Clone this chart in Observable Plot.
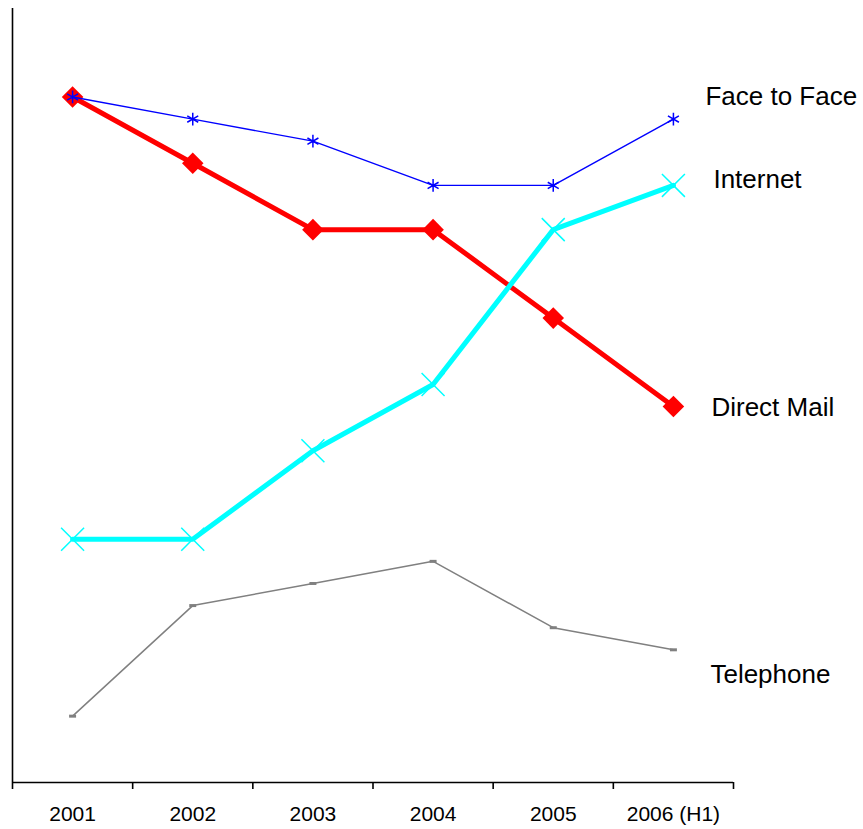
<!DOCTYPE html>
<html>
<head>
<meta charset="utf-8">
<script src="https://cdn.jsdelivr.net/npm/d3@7"></script>
<script src="https://cdn.jsdelivr.net/npm/@observablehq/plot@0.6"></script>
<style>
  html, body { margin: 0; padding: 0; background: #fff; }
  #chart svg { display: block; }
</style>
</head>
<body>
<div id="chart"></div>
<script>
// Categories along the x axis
const years = ["2001", "2002", "2003", "2004", "2005", "2006 (H1)"];

// Series values per year
const faceToFace = [31, 30, 29, 27, 27, 30];
const directMail = [31, 28, 25, 25, 21, 17];
const internet   = [11, 11, 15, 18, 25, 27];
const telephone  = [3, 8, 9, 10, 7, 6];

const seriesNames = ["Face to Face", "Internet", "Direct Mail", "Telephone"];
const seriesValues = [faceToFace, internet, directMail, telephone];

// Long-format rows, one per series and year (x at the middle of each year's slot)
const rows = seriesNames.flatMap((name, s) =>
  seriesValues[s].map((v, i) => ({series: name, i, x: i + 0.5, year: years[i], value: v}))
);

// Small flat dash used as the telephone marker
const dashSymbol = {
  draw(ctx) { ctx.moveTo(-3.5, -1.5); ctx.lineTo(3.5, -1.5); ctx.lineTo(3.5, 1.5); ctx.lineTo(-3.5, 1.5); ctx.closePath(); }
};

// Drawing style for each series (lines, markers and end label offsets)
const styles = {
  "Direct Mail":  {stroke: "#ff0000", width: 5,   dot: {symbol: "square", r: 8.6, rotate: 45, fill: "#ff0000"}, dx: 38, dy: 1},
  "Internet":     {stroke: "#00ffff", width: 5,   dot: {symbol: "times", r: 10.5, stroke: "#00ffff", strokeWidth: 1.5}, dx: 40, dy: -6},
  "Face to Face": {stroke: "#0000ff", width: 1.4, dot: {symbol: "asterisk", r: 6, stroke: "#0000ff", strokeWidth: 1.5}, dx: 32, dy: -22},
  "Telephone":    {stroke: "#808080", width: 1.5, dot: {symbol: dashSymbol, fill: "#808080"}, dx: 37, dy: 25}
};
const drawOrder = ["Direct Mail", "Internet", "Face to Face", "Telephone"];

const seriesMarks = drawOrder.flatMap(name => {
  const st = styles[name];
  const data = rows.filter(d => d.series === name);
  return [
    Plot.line(data, {x: "x", y: "value", stroke: st.stroke, strokeWidth: st.width, strokeLinejoin: "miter"}),
    Plot.dot(data, {x: "x", y: "value", ...st.dot})
  ];
});

const labelMarks = seriesNames.map(name => {
  const st = styles[name];
  const last = rows.filter(d => d.series === name && d.i === years.length - 1);
  return Plot.text(last, {
    x: "x", y: "value", text: "series",
    dx: st.dx, dy: st.dy, textAnchor: "start",
    fontSize: 26, fill: "#000"
  });
});

const chart = Plot.plot({
  width: 863,
  height: 829,
  marginLeft: 12,
  marginRight: 130,
  marginTop: 8,
  marginBottom: 47,
  style: {fontFamily: "'Liberation Sans', Arial, sans-serif", background: "#fff", color: "#000"},
  x: {type: "linear", domain: [0, years.length]},
  y: {domain: [0, 35], axis: null},
  marks: [
    // Axis lines
    Plot.ruleX([0], {stroke: "#000", strokeWidth: 1.6}),
    Plot.ruleY([0], {stroke: "#000", strokeWidth: 1.6}),
    // Tick marks at the boundaries between years
    Plot.axisX(d3.range(years.length + 1), {tickSize: 7, tickFormat: () => "", label: null, stroke: "#000", strokeWidth: 1.6}),
    // Year labels centred in each slot
    Plot.axisX(d3.range(years.length).map(i => i + 0.5), {
      tickSize: 0, tickPadding: 24, label: null,
      tickFormat: d => years[Math.floor(d)],
      fontSize: 21, fill: "#000"
    }),
    ...seriesMarks,
    ...labelMarks
  ]
});

document.getElementById("chart").append(chart);
</script>
</body>
</html>
